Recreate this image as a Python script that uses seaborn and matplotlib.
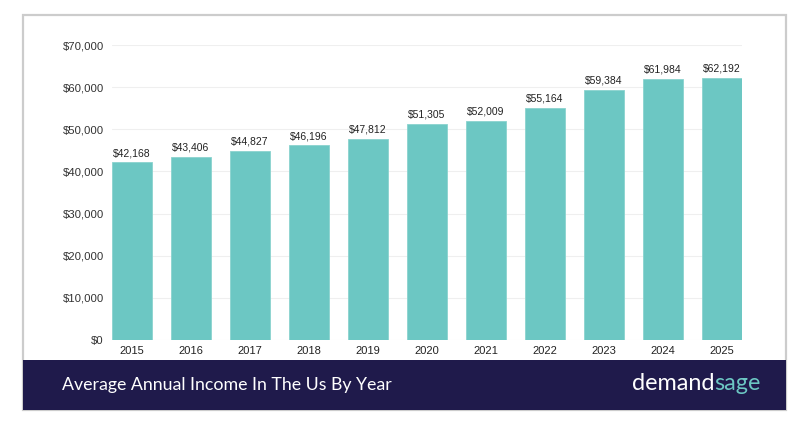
import matplotlib.pyplot as plt
import matplotlib.patches as mpatches
import seaborn as sns
import pandas as pd

years = ["2015", "2016", "2017", "2018", "2019", "2020", "2021", "2022", "2023", "2024", "2025"]
income = [42168, 43406, 44827, 46196, 47812, 51305, 52009, 55164, 59384, 61984, 62192]
title = "Average Annual Income In The Us By Year"

BAR = "#6CC7C3"
NAVY = "#1F1A4B"

sns.set_theme(style="white")
plt.rcParams['font.family'] = ['Liberation Sans', 'DejaVu Sans']

df = pd.DataFrame({"Year": years, "Income": income})

fig = plt.figure(figsize=(8.1, 4.25), dpi=100)
W, H = 810, 425

# card border and footer banner
fig.patches.append(mpatches.Rectangle((23 / W, 1 - 410 / H), (786 - 23) / W, (410 - 15) / H,
                                      transform=fig.transFigure, fill=False,
                                      edgecolor="#CCCCCC", linewidth=1.6, zorder=0))
fig.patches.append(mpatches.Rectangle((23 / W, 1 - 410 / H), (786 - 23) / W, 50 / H,
                                      transform=fig.transFigure, facecolor=NAVY,
                                      edgecolor="none", zorder=1))

ax = fig.add_axes([112 / W, 1 - 340 / H, 630 / W, 295 / H])
sns.barplot(data=df, x="Year", y="Income", color=BAR, width=0.67, saturation=1,
            edgecolor="#8AD3CF", linewidth=0.6, ax=ax, zorder=2)
ax.set_xlim(-0.34, len(years) - 1 + 0.34)
ax.set_ylim(0, 70000)
ax.set_yticks(range(0, 70001, 10000))
ax.set_yticklabels([f"${v:,}" for v in range(0, 70001, 10000)])
ax.yaxis.grid(True, color="#EFEFEF", linewidth=0.8, zorder=0)
ax.set_axisbelow(True)
for s in ax.spines.values():
    s.set_visible(False)
ax.set_xlabel("")
ax.set_ylabel("")
ax.tick_params(axis="y", labelsize=8.2, colors="#333333", pad=6, length=0)
ax.tick_params(axis="x", labelsize=8, colors="#222222", pad=4, length=0)

ax.bar_label(ax.containers[0], labels=[f"${v:,}" for v in income],
             fontsize=7.5, color="#222222", padding=3)

fig.text(62 / W, 1 - 385 / H, title, color="white", fontsize=12.8,
         family=["Lato", "DejaVu Sans"], va="center", ha="left")
t = fig.text(632 / W, 1 - 384 / H, "demand", color="white", fontsize=16.8,
             family=["Lato", "DejaVu Sans"], va="center", ha="left")
fig.canvas.draw()
bb = t.get_window_extent()
fig.text(bb.x1 / W, 1 - 384 / H, "sage", color=BAR, fontsize=16.8,
         family=["Lato", "DejaVu Sans"], va="center", ha="left")

fig.savefig("out.png", dpi=100, facecolor="white")
